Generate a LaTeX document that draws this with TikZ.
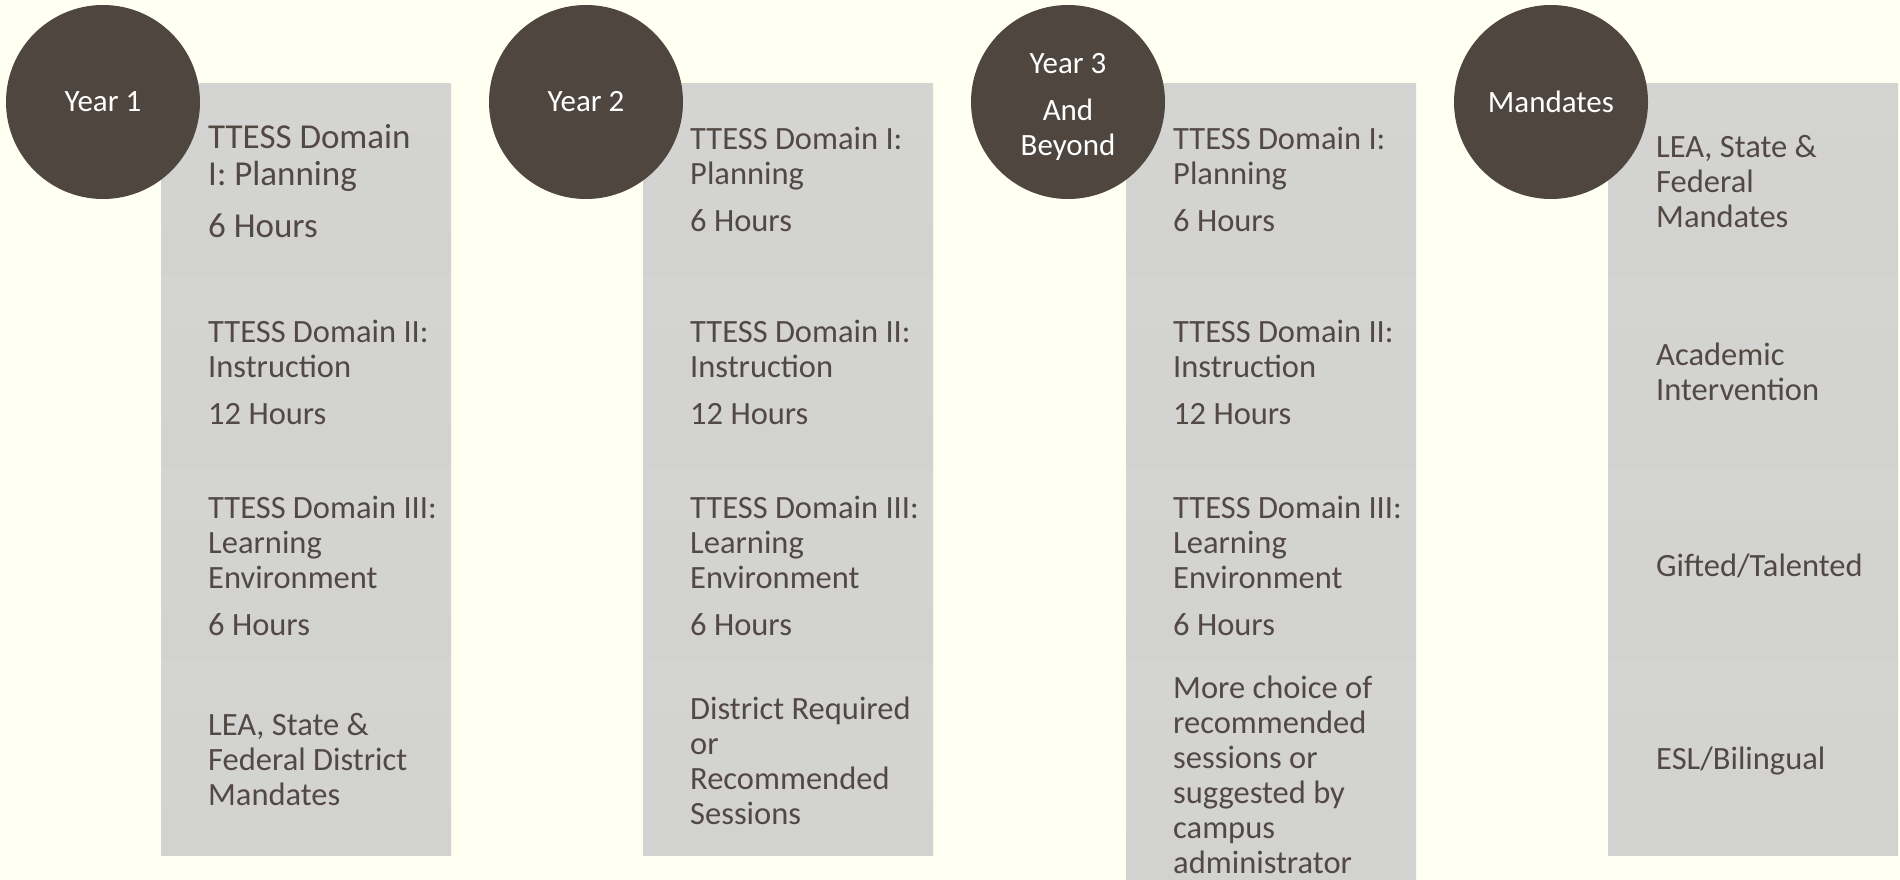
\documentclass[tikz,border=0pt]{standalone}
\usepackage{fontspec}
\setmainfont{Carlito}

\definecolor{bgcol}{RGB}{255,255,242}
\definecolor{boxtop}{RGB}{212,212,211}
\definecolor{boxbot}{RGB}{210,210,209}
\definecolor{ballcol}{RGB}{80,70,64}
\definecolor{txtcol}{RGB}{82,73,68}

\tikzset{
  ball/.style={circle, fill=ballcol, minimum size=194pt, inner sep=0pt,
    text=white, align=center, font=\fontsize{31}{35}\selectfont},
  cell/.style={rectangle, top color=boxtop, bottom color=boxbot,
    minimum width=290pt, minimum height=193pt, inner sep=0pt, anchor=north west},
  txt/.style={anchor=north west, inner sep=0pt, align=left, text=txtcol,
    font=\fontsize{32.5}{35}\selectfont},
}

\begin{document}
\begin{tikzpicture}[x=1pt, y=-1pt]
        \fill[bgcol] (0,0) rectangle (1900,880);
        \useasboundingbox (0,0) rectangle (1900,880);

        % Year 1
        \node[cell] at ( 161, 83) (c11) {};
        \node[cell] at ( 161,276) (c12) {};
        \node[cell] at ( 161,469) (c13) {};
        \node[cell] at ( 161,662) (c14) {};
        % Year 2
        \node[cell] at ( 643, 83) (c21) {};
        \node[cell] at ( 643,276) (c22) {};
        \node[cell] at ( 643,469) (c23) {};
        \node[cell] at ( 643,662) (c24) {};
        % Year 3
        \node[cell] at (1126, 83) (c31) {};
        \node[cell] at (1126,276) (c32) {};
        \node[cell] at (1126,469) (c33) {};
        \node[cell, minimum height=223pt] at (1126,662) (c34) {};
        % Mandates
        \node[cell] at (1608, 83) (c41) {};
        \node[cell] at (1608,276) (c42) {};
        \node[cell] at (1608,469) (c43) {};
        \node[cell] at (1608,662) (c44) {};

        \node[ball] at ( 103,102) (y1) {Year 1};
        \node[ball] at ( 586,102) (y2) {Year 2};
        \node[ball] at (1068,102) (y3) {};
        \node[ball, fill=none] at (1068,107) (y3t) {Year 3\\[12pt]And\\Beyond};
        \node[ball] at (1551,102) (man) {Mandates};

        \node[txt, font=\fontsize{35}{37}\selectfont] at (208,124) (t11)
          {TTESS Domain\\I: Planning\\[15pt]6 Hours};
        \node[txt] at (208,320) (t12) {TTESS Domain II:\\Instruction\\[12pt]12 Hours};
        \node[txt] at (208,496) (t13) {TTESS Domain III:\\Learning\\Environment\\[12pt]6 Hours};
        \node[txt] at (208,713) (t14) {LEA, State \&\\Federal District\\Mandates};

        \node[txt] at (690,127) (t21) {TTESS Domain I:\\Planning\\[12pt]6 Hours};
        \node[txt] at (690,320) (t22) {TTESS Domain II:\\Instruction\\[12pt]12 Hours};
        \node[txt] at (690,496) (t23) {TTESS Domain III:\\Learning\\Environment\\[12pt]6 Hours};
        \node[txt] at (690,697) (t24) {District Required\\or\\Recommended\\Sessions};

        \node[txt] at (1173,127) (t31) {TTESS Domain I:\\Planning\\[12pt]6 Hours};
        \node[txt] at (1173,320) (t32) {TTESS Domain II:\\Instruction\\[12pt]12 Hours};
        \node[txt] at (1173,496) (t33) {TTESS Domain III:\\Learning\\Environment\\[12pt]6 Hours};
        \node[txt] at (1173,676) (t34) {More choice of\\recommended\\sessions or\\suggested by\\campus\\administrator};

        \node[txt] at (1656,135) (t41) {LEA, State \&\\Federal\\Mandates};
        \node[txt] at (1656,343) (t42) {Academic\\Intervention};
        \node[txt] at (1656,554) (t43) {Gifted/Talented};
        \node[txt] at (1656,747) (t44) {ESL/Bilingual};
      \end{tikzpicture}
\end{document}
